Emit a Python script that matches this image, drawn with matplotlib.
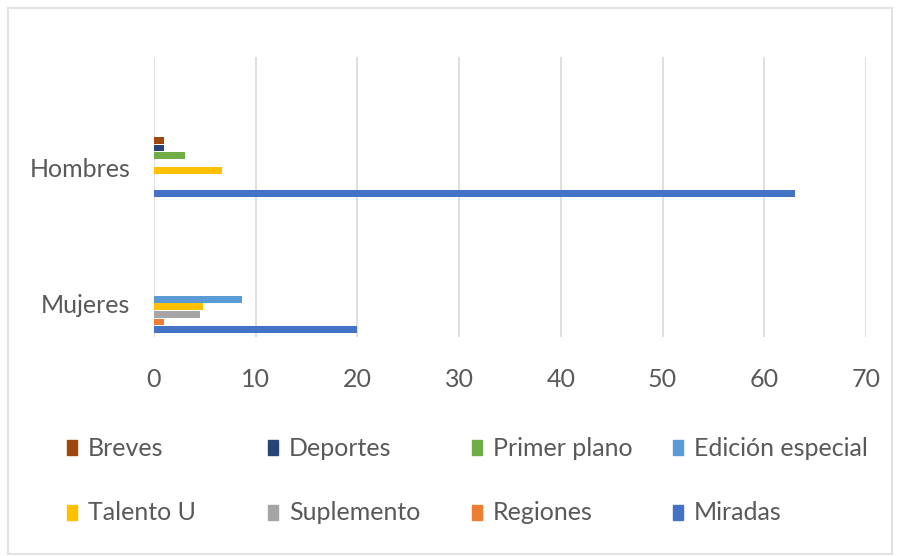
import matplotlib.pyplot as plt
import matplotlib.patches as patches
import numpy as np

plt.rcParams['font.family'] = ['Lato', 'DejaVu Sans']

# Datos
grupos = ['Mujeres', 'Hombres']
series = ['Breves', 'Deportes', 'Primer plano', 'Edición especial',
          'Talento U', 'Suplemento', 'Regiones', 'Miradas']
mujeres = [0, 0, 0, 8.7, 4.8, 4.5, 1, 20]
hombres = [1, 1, 3, 0, 6.7, 0, 0, 63]
colores = ['#9E480E', '#264478', '#70AD47', '#5B9BD5',
           '#FFC000', '#A5A5A5', '#ED7D31', '#4472C4']
ticks_x = [0, 10, 20, 30, 40, 50, 60, 70]

gris = '#595959'
W, H = 900, 556

fig = plt.figure(figsize=(9, 5.56), dpi=100)
ax = fig.add_axes([0.1711, 0.3939, 0.7911, 0.5036])

paso = 0.056
alto = 0.05
y = np.arange(len(grupos))
for i, (nombre, color) in enumerate(zip(series, colores)):
    desplaz = (3.5 - i) * paso
    valores = [mujeres[i], hombres[i]]
    ax.barh(y + desplaz, valores, height=alto, color=color, label=nombre, zorder=3)

ax.set_xlim(0, 70)
ax.set_ylim(-0.25, 1.81)
ax.set_xticks(ticks_x)
ax.set_yticks(y)
ax.set_yticklabels(grupos)
ax.tick_params(axis='both', length=0, labelsize=18, colors=gris)
ax.tick_params(axis='x', pad=22)
ax.tick_params(axis='y', pad=17)
ax.grid(axis='x', color='#D9D9D9', linewidth=1.2, zorder=0)
for s in ax.spines.values():
    s.set_visible(False)

# Marco exterior
fig.add_artist(patches.Rectangle((8 / W, 2 / H), 884 / W, 546 / H,
                                 transform=fig.transFigure, fill=False,
                                 edgecolor='#E3E3E3', linewidth=1.5))

# Leyenda en dos filas de cuatro
col_x = [67, 268, 472, 673]
fila_y = [448, 513]
for k, (nombre, color) in enumerate(zip(series, colores)):
    fx = col_x[k % 4]
    fy = fila_y[k // 4]
    fig.add_artist(patches.Rectangle((fx / W, (H - fy - 7) / H), 10 / W, 15 / H,
                                     transform=fig.transFigure, color=color))
    fig.text((fx + 21) / W, (H - fy) / H, nombre, fontsize=18, color=gris,
             ha='left', va='center')

fig.savefig('out.png', dpi=100)
